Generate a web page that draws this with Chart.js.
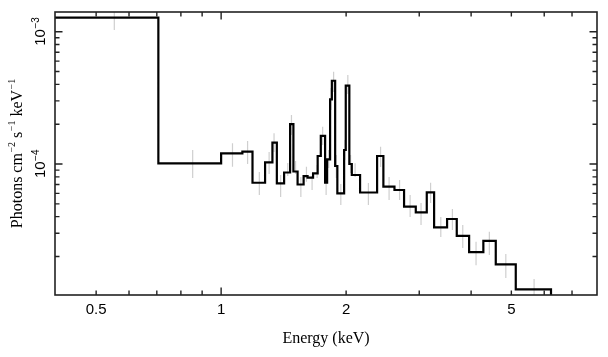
<!DOCTYPE html>
<html>
<head>
<meta charset="utf-8">
<script src="https://cdn.jsdelivr.net/npm/chart.js@4.4.0/dist/chart.umd.min.js"></script>
<style>
html,body{margin:0;padding:0;background:#fff;}
#wrap{width:608px;height:357px;position:relative;}
canvas{display:block;}
</style>
</head>
<body>
<div id="wrap"><canvas id="c" width="608" height="357"></canvas></div>
<script>
// ---- data (Energy in keV, flux in photons cm^-2 s^-1 keV^-1) ----
const binLowEdges = [0.398, 0.706, 1.0, 1.125, 1.19, 1.276, 1.329, 1.362, 1.418, 1.466, 1.493, 1.528, 1.58, 1.615, 1.665, 1.708, 1.738, 1.78, 1.80, 1.83, 1.848, 1.882, 1.905, 1.978, 1.996, 2.036, 2.064, 2.161, 2.375, 2.459, 2.615, 2.758, 2.943, 3.128, 3.258, 3.501, 3.694, 3.956, 4.281, 4.586, 5.124];
const binValues = [1.28e-3, 1.01e-4, 1.205e-4, 1.239e-4, 7.22e-5, 1.03e-4, 1.449e-4, 7.15e-5, 8.63e-5, 2.0e-4, 8.78e-5, 7.0e-5, 8.11e-5, 7.9e-5, 8.5e-5, 1.15e-4, 1.63e-4, 7.22e-5, 1.085e-4, 3.08e-4, 4.26e-4, 9.66e-5, 6.0e-5, 1.276e-4, 3.91e-4, 1.0e-4, 8.26e-5, 6.09e-5, 1.15e-4, 6.74e-5, 6.36e-5, 4.76e-5, 4.31e-5, 6.1e-5, 3.32e-5, 3.84e-5, 2.86e-5, 2.16e-5, 2.62e-5, 1.746e-5, 1.13e-5];
const lastBinHighEdge = 6.23;
const beyondValue = 1e-6; // next bin falls below the plotted range

const errEnergy = [0.553, 0.854, 1.065, 1.158, 1.236, 1.305, 1.341, 1.391, 1.447, 1.477, 1.511, 1.556, 1.605, 1.656, 1.703, 1.756, 1.790, 1.816, 1.840, 1.866, 1.894, 1.942, 1.987, 2.019, 2.050, 2.102, 2.263, 2.421, 2.538, 2.690, 2.852, 3.030, 3.195, 3.381, 3.606, 3.819, 4.111, 4.426, 4.849, 5.672];
const errHigh = [1.51e-3, 1.276e-4, 1.434e-4, 1.492e-4, 8.70e-5, 1.232e-4, 1.706e-4, 8.26e-5, 1.018e-4, 2.346e-4, 1.054e-4, 7.98e-5, 9.54e-5, 8.12e-5, 9.83e-5, 1.914e-4, 8.70e-5, 1.276e-4, 3.753e-4, 4.985e-4, 1.17e-4, 7.06e-5, 1.518e-4, 4.71e-4, 1.17e-4, 1.012e-4, 7.18e-5, 1.352e-4, 7.98e-5, 7.57e-5, 5.83e-5, 5.07e-5, 7.22e-5, 3.98e-5, 4.57e-5, 3.46e-5, 2.59e-5, 3.08e-5, 2.09e-5, 1.35e-5];
const errLow = [1.03e-3, 7.84e-5, 9.54e-5, 1.0e-4, 5.83e-5, 8.40e-5, 1.232e-4, 5.63e-5, 8.12e-5, 1.656e-4, 8.40e-5, 5.63e-5, 7.35e-5, 6.36e-5, 7.84e-5, 1.392e-4, 5.83e-5, 9.33e-5, 2.56e-4, 3.50e-4, 7.84e-5, 4.90e-5, 1.072e-4, 3.38e-4, 8.55e-5, 7.98e-5, 4.90e-5, 9.49e-5, 5.34e-5, 5.34e-5, 3.98e-5, 3.46e-5, 5.07e-5, 2.81e-5, 3.17e-5, 2.32e-5, 1.72e-5, 2.05e-5, 1.375e-5, 9.4e-6];

const xRange = [0.398, 8.04];
const yRange = [1.023e-5, 1.41e-3];
const xTickValues = [0.4, 0.5, 0.6, 0.7, 0.8, 0.9, 1, 2, 3, 4, 5, 6, 7, 8];
const xTickLabels = [0.5, 1, 2, 5];
const yTickValues = [2e-5, 3e-5, 4e-5, 5e-5, 6e-5, 7e-5, 8e-5, 9e-5, 1e-4, 2e-4, 3e-4, 4e-4, 5e-4, 6e-4, 7e-4, 8e-4, 9e-4, 1e-3];
const yTickLabels = [{value: 1e-3, base: '10', exp: '\u22123'}, {value: 1e-4, base: '10', exp: '\u22124'}];
const xTitle = 'Energy (keV)';
const yTitleParts = [['Photons cm', '\u22122'], [' s', '\u22121'], [' keV', '\u22121']];

// ---- build datasets ----
const stepData = binLowEdges.map((e, i) => ({x: e, y: binValues[i]}));
stepData.push({x: lastBinHighEdge, y: binValues[binValues.length - 1]});
stepData.push({x: lastBinHighEdge, y: beyondValue});

const errData = [];
errEnergy.forEach((e, i) => {
  errData.push({x: e, y: errLow[i]});
  errData.push({x: e, y: errHigh[i]});
  errData.push({x: e, y: null});
});

const SANS = '"Liberation Sans", Arial, Helvetica, sans-serif';
const SERIF = '"Liberation Serif", "Times New Roman", Times, serif';

function isDecade(v) {
  const l = Math.log10(v);
  return Math.abs(l - Math.round(l)) < 1e-9;
}

const framePlugin = {
  id: 'framePlugin',
  afterDatasetsDraw(chart) {
    const ctx = chart.ctx;
    const a = chart.chartArea;
    const xs = chart.scales.x, ys = chart.scales.y;
    ctx.save();
    ctx.strokeStyle = '#222';
    ctx.lineWidth = 1.6;
    ctx.strokeRect(a.left, a.top, a.right - a.left, a.bottom - a.top);
    ctx.lineWidth = 1.4;
    ctx.beginPath();
    xTickValues.forEach(v => {
      const px = xs.getPixelForValue(v);
      if (px < a.left + 1 || px > a.right - 1) return;
      const len = isDecade(v) ? 7.5 : 4.5;
      ctx.moveTo(px, a.bottom); ctx.lineTo(px, a.bottom - len);
      ctx.moveTo(px, a.top); ctx.lineTo(px, a.top + len);
    });
    yTickValues.forEach(v => {
      const py = ys.getPixelForValue(v);
      if (py < a.top + 1 || py > a.bottom - 1) return;
      const len = isDecade(v) ? 7.5 : 4.5;
      ctx.moveTo(a.left, py); ctx.lineTo(a.left + len, py);
      ctx.moveTo(a.right, py); ctx.lineTo(a.right - len, py);
    });
    ctx.stroke();

    // x tick labels
    ctx.fillStyle = '#000';
    ctx.font = '15px ' + SANS;
    ctx.textAlign = 'center';
    ctx.textBaseline = 'alphabetic';
    xTickLabels.forEach(v => {
      ctx.fillText(String(v), xs.getPixelForValue(v), a.bottom + 18.5);
    });

    // y tick labels (rotated, with superscript exponent)
    yTickLabels.forEach(t => {
      const py = ys.getPixelForValue(t.value);
      ctx.save();
      ctx.translate(a.left - 10, py);
      ctx.rotate(-Math.PI / 2);
      ctx.textAlign = 'left';
      ctx.font = '15px ' + SANS;
      const wb = ctx.measureText(t.base).width;
      ctx.font = '10px ' + SANS;
      const we = ctx.measureText(t.exp).width;
      const x0 = -(wb + we) / 2;
      ctx.font = '15px ' + SANS;
      ctx.fillText(t.base, x0, 0);
      ctx.font = '10px ' + SANS;
      ctx.fillText(t.exp, x0 + wb + 0.5, -6);
      ctx.restore();
    });

    // x title
    ctx.font = '16px ' + SERIF;
    ctx.textAlign = 'center';
    ctx.fillText(xTitle, (a.left + a.right) / 2, 342.5);

    // y title (rotated, superscripts)
    ctx.save();
    ctx.translate(21.5, (a.top + a.bottom) / 2);
    ctx.rotate(-Math.PI / 2);
    ctx.textAlign = 'left';
    let total = 0;
    yTitleParts.forEach(([t, s]) => {
      ctx.font = '16px ' + SERIF; total += ctx.measureText(t).width;
      ctx.font = '10px ' + SERIF; total += ctx.measureText(s).width + 0.5;
    });
    let x = -total / 2;
    yTitleParts.forEach(([t, s]) => {
      ctx.font = '16px ' + SERIF; ctx.fillText(t, x, 0); x += ctx.measureText(t).width + 0.5;
      ctx.font = '10px ' + SERIF; ctx.fillText(s, x, -6.5); x += ctx.measureText(s).width;
    });
    ctx.restore();
    ctx.restore();
  }
};

new Chart(document.getElementById('c'), {
  type: 'line',
  data: {
    datasets: [
      {
        label: 'Spectrum',
        data: stepData,
        stepped: true,
        borderColor: '#000',
        borderWidth: 2.2,
        borderJoinStyle: 'miter',
        borderCapStyle: 'butt',
        pointRadius: 0,
        fill: false,
        spanGaps: false
      },
      {
        label: 'Errors',
        data: errData,
        borderColor: '#cfcfcf',
        borderWidth: 1.2,
        pointRadius: 0,
        fill: false,
        spanGaps: false
      }
    ]
  },
  options: {
    responsive: false,
    animation: false,
    devicePixelRatio: 1,
    layout: {padding: {left: 55, top: 12, right: 11, bottom: 62}},
    plugins: {legend: {display: false}, tooltip: {enabled: false}},
    scales: {
      x: {type: 'logarithmic', min: xRange[0], max: xRange[1], display: false},
      y: {type: 'logarithmic', min: yRange[0], max: yRange[1], display: false}
    }
  },
  plugins: [framePlugin]
});
</script>
</body>
</html>
